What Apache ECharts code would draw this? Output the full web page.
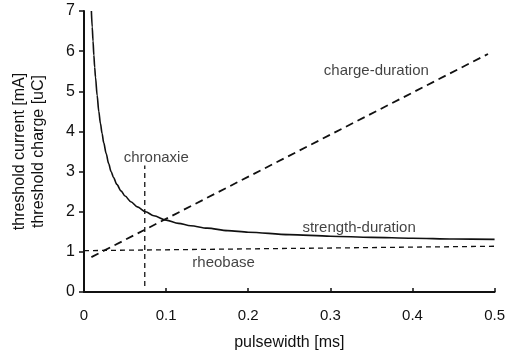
<!DOCTYPE html>
<html><head><meta charset="utf-8">
<script src="https://cdn.jsdelivr.net/npm/echarts@6/dist/echarts.min.js"></script>
<style>html,body{margin:0;padding:0;background:#fff}#c{width:508px;height:358px}</style>
</head><body><div id="c"></div>
<script>
// x ticks / y ticks
const xTicks = [0, 0.1, 0.2, 0.3, 0.4, 0.5];
const yTicks = [0, 1, 2, 3, 4, 5, 6, 7];
// strength-duration curve (pulsewidth ms, threshold current mA)
const strengthDuration = [[0.009,7.0],[0.01,6.6],[0.011,6.25],[0.012,5.9],[0.013,5.6],[0.014,5.35],[0.016,4.9],[0.018,4.5],[0.02,4.2],[0.022,3.95],[0.024,3.72],[0.027,3.45],[0.03,3.2],[0.033,3.0],[0.036,2.85],[0.04,2.68],[0.045,2.52],[0.05,2.39],[0.057,2.25],[0.065,2.12],[0.075,2.0],[0.085,1.9],[0.1,1.79],[0.115,1.71],[0.13,1.65],[0.15,1.59],[0.175,1.53],[0.2,1.49],[0.25,1.43],[0.3,1.39],[0.35,1.36],[0.4,1.34],[0.45,1.32],[0.5,1.31]];
// charge-duration line
const chargeDuration = [[0.009,0.87],[0.492,5.93]];
// rheobase line
const rheobase = [[0.0,1.03],[0.5,1.14]];
// chronaxie vertical line
const chronaxie = [[0.074,0.15],[0.074,3.15]];
// annotation labels
const labelNames = ['chronaxie','charge-duration','strength-duration','rheobase'];
const labelPos = [[0.088,3.33],[0.356,5.51],[0.335,1.61],[0.17,0.72]];

const ink = '#111';
const ff = 'Liberation Sans, Arial, sans-serif';
const chart = echarts.init(document.getElementById('c'));
chart.setOption({
  animation:false,
  backgroundColor:'#fff',
  textStyle:{fontFamily:ff},
  grid:{left:84,right:13,top:11,bottom:66},
  xAxis:{type:'value',min:xTicks[0],max:xTicks[xTicks.length-1],interval:0.1,
    name:'pulsewidth [ms]',nameLocation:'middle',nameGap:43,
    nameTextStyle:{fontSize:16,color:ink,fontFamily:ff},
    axisLine:{lineStyle:{color:ink,width:2}},
    axisTick:{inside:true,length:4,lineStyle:{color:ink,width:1.5}},
    axisLabel:{fontSize:15,color:ink,margin:16,formatter:v=>String(+v.toFixed(1))},
    splitLine:{show:false}},
  yAxis:{type:'value',min:yTicks[0],max:yTicks[yTicks.length-1],interval:1,
    name:'threshold current [mA]\nthreshold charge [uC]',nameLocation:'middle',nameGap:36,nameRotate:90,
    nameTextStyle:{fontSize:16,color:ink,lineHeight:19,fontFamily:ff},
    axisLine:{show:true,lineStyle:{color:ink,width:2}},
    axisTick:{show:true,length:5,lineStyle:{color:ink,width:1.5}},
    axisLabel:{fontSize:16,color:ink,margin:9},
    splitLine:{show:false}},
  series:[
    {type:'line',data:strengthDuration,smooth:0.3,smoothMonotone:'x',showSymbol:false,lineStyle:{color:ink,width:1.6},clip:true},
    {type:'line',data:chargeDuration,showSymbol:false,lineStyle:{color:ink,width:1.8,type:[8,5]}},
    {type:'line',data:rheobase,showSymbol:false,lineStyle:{color:ink,width:1.3,type:[5,4]}},
    {type:'line',data:chronaxie,showSymbol:false,lineStyle:{color:ink,width:1.3,type:[5,4]}},
    {type:'scatter',symbolSize:0,data:labelPos.map((p,i)=>({value:p,name:labelNames[i]})),
      label:{show:true,position:'inside',formatter:p=>p.name,fontSize:15,color:ink,fontFamily:ff}}
  ]
});
</script></body></html>
